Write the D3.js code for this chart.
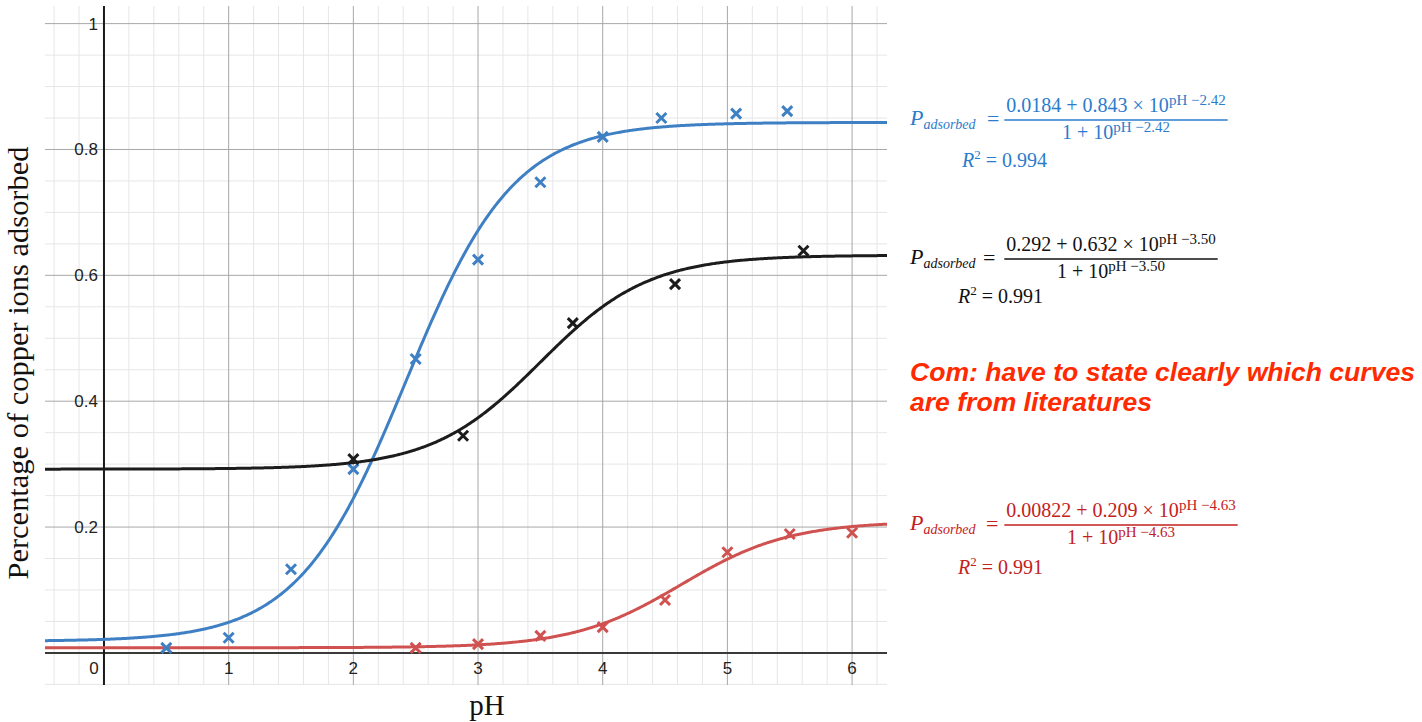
<!DOCTYPE html>
<html>
<head>
<meta charset="utf-8">
<script src="https://cdn.jsdelivr.net/npm/d3@7"></script>
<style>
    body { margin: 0; background: #fff; }
    svg { display: block; }
</style>
</head>
<body>
<svg id="chart" width="1422" height="722"></svg>
<script>
(function() {
    // measured points
    var bluePH = [0.5, 1, 1.5, 2, 2.5, 3, 3.5, 4, 4.47, 5.07, 5.48];
    var blueP = [0.008, 0.024, 0.133, 0.292, 0.467, 0.625, 0.748, 0.82, 0.85, 0.857, 0.861];
    var blackPH = [2.0, 2.88, 3.76, 4.58, 5.61];
    var blackP = [0.308, 0.345, 0.524, 0.586, 0.639];
    var redPH = [2.5, 3, 3.5, 4, 4.5, 5, 5.5, 6];
    var redP = [0.008, 0.014, 0.027, 0.041, 0.084, 0.16, 0.189, 0.191];

    // fitted parameters: P = (a + b*10^(pH-c)) / (1 + 10^(pH-c))
    var fitNames = ['blue', 'black', 'red'];
    var fitA = [0.0184, 0.292, 0.00822];
    var fitB = [0.843, 0.632, 0.209];
    var fitC = [2.42, 3.50, 4.63];
    var fitR2 = ['0.994', '0.991', '0.991'];

    var xTicks = [0, 1, 2, 3, 4, 5, 6];
    var yTicks = [0.2, 0.4, 0.6, 0.8, 1];

    var colors = { blue: '#3f80c4', black: '#1c1c1c', red: '#cf5250' };
    var textColors = { blue: '#2b7ccc', black: '#111', red: '#c3211d' };

    var svg = d3.select('#chart');
    var left = 45, right = 887, top = 6, bottom = 685;

    var x = d3.scaleLinear().domain([-0.473, 6.28]).range([left, right]);
    var y = d3.scaleLinear().domain([-0.051, 1.028]).range([bottom, top]);

    var grid = svg.append('g');
    var minorX = d3.range(-0.4, 6.3, 0.2).filter(function(v) { return Math.abs(v - Math.round(v)) > 0.01; });
    var minorY = d3.range(-0.05, 1.03, 0.05).filter(function(v) { return Math.abs(v * 5 - Math.round(v * 5)) > 0.01; });

    grid.selectAll('.mx').data(minorX).enter().append('line')
        .attr('x1', function(d) { return x(d); }).attr('x2', function(d) { return x(d); })
        .attr('y1', top).attr('y2', bottom)
        .attr('stroke', '#e6e6e6').attr('stroke-width', 1);
    grid.selectAll('.my').data(minorY).enter().append('line')
        .attr('y1', function(d) { return y(d); }).attr('y2', function(d) { return y(d); })
        .attr('x1', left).attr('x2', right)
        .attr('stroke', '#e6e6e6').attr('stroke-width', 1);

    grid.selectAll('.MX').data(xTicks.slice(1)).enter().append('line')
        .attr('x1', function(d) { return x(d); }).attr('x2', function(d) { return x(d); })
        .attr('y1', top).attr('y2', bottom)
        .attr('stroke', '#a8a8a8').attr('stroke-width', 1);
    grid.selectAll('.MY').data(yTicks).enter().append('line')
        .attr('y1', function(d) { return y(d); }).attr('y2', function(d) { return y(d); })
        .attr('x1', left).attr('x2', right)
        .attr('stroke', '#a8a8a8').attr('stroke-width', 1);

    // axes
    svg.append('line').attr('x1', left).attr('x2', right)
        .attr('y1', y(0)).attr('y2', y(0))
        .attr('stroke', '#3a3a3a').attr('stroke-width', 2);
    svg.append('line').attr('x1', x(0)).attr('x2', x(0))
        .attr('y1', top).attr('y2', bottom)
        .attr('stroke', '#1a1a1a').attr('stroke-width', 2);

    // tick labels
    svg.selectAll('.xt').data(xTicks).enter().append('text')
        .attr('x', function(d) { return d === 0 ? x(d) - 10 : x(d); })
        .attr('y', y(0) + 21)
        .attr('text-anchor', 'middle')
        .attr('font-family', 'Liberation Sans, Arial, sans-serif')
        .attr('font-size', 17).attr('fill', '#222')
        .text(function(d) { return d; });
    svg.selectAll('.yt').data(yTicks).enter().append('text')
        .attr('x', x(0) - 6)
        .attr('y', function(d) { return y(d) + 6; })
        .attr('text-anchor', 'end')
        .attr('font-family', 'Liberation Sans, Arial, sans-serif')
        .attr('font-size', 17).attr('fill', '#222')
        .text(function(d) { return d === 1 ? '1' : d.toFixed(1); });

    // axis titles
    svg.append('text')
        .attr('transform', 'translate(28,363) rotate(-90)')
        .attr('text-anchor', 'middle')
        .attr('font-family', 'Liberation Serif, Times New Roman, serif')
        .attr('font-size', 29).attr('fill', '#111')
        .attr('textLength', 433).attr('lengthAdjust', 'spacingAndGlyphs')
        .text('Percentage of copper ions adsorbed');
    svg.append('text')
        .attr('x', 487).attr('y', 715)
        .attr('text-anchor', 'middle')
        .attr('font-family', 'Liberation Serif, Times New Roman, serif')
        .attr('font-size', 29).attr('fill', '#111')
        .text('pH');

    // fitted curves
    svg.append('clipPath').attr('id', 'plotclip').append('rect')
        .attr('x', left).attr('y', top).attr('width', right - left).attr('height', bottom - top);
    var curveX = d3.range(-0.473, 6.29, 0.01);
    fitNames.forEach(function(name, i) {
        var pts = curveX.map(function(p) {
            var e = Math.pow(10, p - fitC[i]);
            return [p, (fitA[i] + fitB[i] * e) / (1 + e)];
        });
        svg.append('path')
            .attr('d', d3.line().x(function(d) { return x(d[0]); }).y(function(d) { return y(d[1]); })(pts))
            .attr('fill', 'none')
            .attr('stroke', colors[name]).attr('stroke-width', 3)
            .attr('clip-path', 'url(#plotclip)');
    });

    // crosses
    function crosses(xs, ys, color) {
        var s = 5;
        var g = svg.append('g');
        xs.forEach(function(px, j) {
            var cx = x(px), cy = y(ys[j]);
            g.append('path')
                .attr('d', 'M' + (cx - s) + ',' + (cy - s) + 'L' + (cx + s) + ',' + (cy + s) +
                    'M' + (cx - s) + ',' + (cy + s) + 'L' + (cx + s) + ',' + (cy - s))
                .attr('stroke', color).attr('stroke-width', 3).attr('fill', 'none');
        });
    }
    crosses(bluePH, blueP, colors.blue);
    crosses(blackPH, blackP, colors.black);
    crosses(redPH, redP, colors.red);

    // equations
    var serif = 'Liberation Serif, Times New Roman, serif';
    var eqLayout = [
        { lineY: 120, cx: 1116, px: 910, ex: 987, rx: 962, ry: 167 },
        { lineY: 259, cx: 1111, px: 910, ex: 983, rx: 958, ry: 303 },
        { lineY: 525, cx: 1121, px: 910, ex: 986, rx: 958, ry: 574 }
    ];
    function sup(t, base, expo) {
        t.append('tspan').text(base);
        t.append('tspan').attr('font-size', 15).attr('dy', -7).text('pH \u2212' + expo);
    }
    fitNames.forEach(function(name, i) {
        var L = eqLayout[i];
        var col = textColors[name];
        var g = svg.append('g').attr('fill', col);
        var p = g.append('text').attr('x', L.px).attr('y', L.lineY + 5)
            .attr('font-family', serif).attr('font-size', 22).attr('font-style', 'italic');
        p.append('tspan').text('P');
        p.append('tspan').attr('font-size', 14).attr('dy', 4).text('adsorbed');
        g.append('text').attr('x', L.ex).attr('y', L.lineY + 6)
            .attr('font-family', serif).attr('font-size', 22).text('=');
        var num = g.append('text').attr('x', L.cx).attr('y', L.lineY - 8)
            .attr('font-family', serif).attr('text-anchor', 'middle').attr('font-size', 20);
        sup(num, fitA[i] + ' + ' + fitB[i].toFixed(3) + ' \u00d7 10', fitC[i].toFixed(2));
        var den = g.append('text').attr('x', L.cx).attr('y', L.lineY + 19)
            .attr('font-family', serif).attr('text-anchor', 'middle').attr('font-size', 20);
        sup(den, '1 + 10', fitC[i].toFixed(2));
        var w = num.node().getComputedTextLength();
        g.append('line')
            .attr('x1', L.cx - w / 2 - 2).attr('x2', L.cx + w / 2 + 2)
            .attr('y1', L.lineY).attr('y2', L.lineY)
            .attr('stroke', col).attr('stroke-width', 1.3);
        var r = g.append('text').attr('x', L.rx).attr('y', L.ry)
            .attr('font-family', serif).attr('font-size', 20);
        r.append('tspan').attr('font-style', 'italic').text('R');
        r.append('tspan').attr('font-size', 13).attr('dy', -8).text('2');
        r.append('tspan').attr('dy', 8).text(' = ' + fitR2[i]);
    });

    // comment
    var com = svg.append('text')
        .attr('font-family', 'Liberation Sans, Arial, sans-serif')
        .attr('font-size', 25).attr('font-weight', 'bold').attr('font-style', 'italic')
        .attr('fill', '#ff2a00');
    com.append('tspan').attr('x', 910).attr('y', 381)
        .attr('textLength', 505).attr('lengthAdjust', 'spacingAndGlyphs')
        .text('Com: have to state clearly which curves');
    com.append('tspan').attr('x', 910).attr('y', 411)
        .attr('textLength', 242).attr('lengthAdjust', 'spacingAndGlyphs')
        .text('are from literatures');
})();
</script>
</body>
</html>
